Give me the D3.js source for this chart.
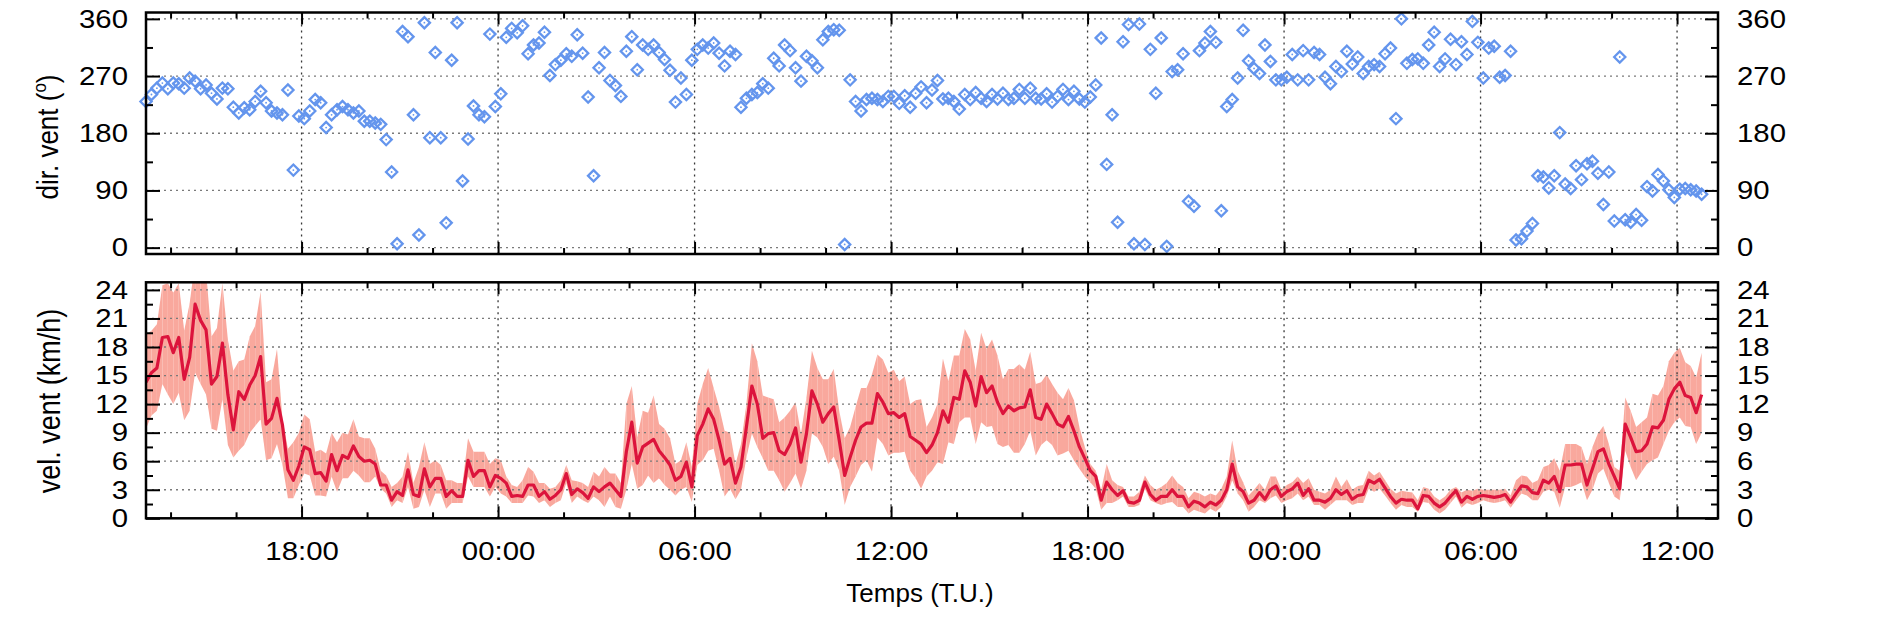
<!DOCTYPE html>
<html><head><meta charset="utf-8">
<script src="https://cdn.jsdelivr.net/npm/d3@7"></script>
<style>
body{margin:0;background:#fff}
svg text{font-family:"Liberation Sans",Arial,Helvetica,sans-serif;fill:#000}
</style>
</head><body>
<svg id="c" width="1890" height="629"></svg>
<script>
// ---------------- data ----------------
const startTime = "2013-06-10T13:15:00Z";   // first sample (T.U.)
const stepMinutes = 10;                      // sampling interval
const dirTicks = [0, 90, 180, 270, 360];
const dirMinorTicks = [45, 135, 225, 315];
const speedTicks = [0, 3, 6, 9, 12, 15, 18, 21, 24];
const speedMinorTicks = [1.5, 4.5, 7.5, 10.5, 13.5, 16.5, 19.5, 22.5];
const timeTickFormat = "%H:%M";

const windDir = [
230,241,251,259,250,259,258,251,267,262,
250,256,243,234,251,250,221,212,220,217,
230,246,228,215,212,209,248,122,207,203,
215,233,228,189,209,217,222,217,212,215,
199,199,196,194,170,119,6,340,332,209,
20,354,173,307,173,39,295,354,105,171,
223,209,206,336,222,242,331,345,338,349,
305,319,322,339,271,288,295,305,301,335,
306,237,113,283,307,263,255,238,309,332,
280,319,312,319,307,296,279,229,267,241,
295,312,319,314,322,306,286,309,304,221,
235,241,244,258,251,298,286,319,310,283,
262,301,294,283,327,340,343,342,5,264,
230,215,233,235,233,230,238,238,227,239,
221,243,253,228,248,263,234,235,230,218,
241,233,244,235,230,241,234,243,233,235,
249,235,251,235,234,242,229,238,249,233,
246,234,229,237,256,330,131,209,40,324,
351,6,352,5,312,243,330,2,277,280,
305,73,65,310,322,340,323,58,222,233,
267,342,294,282,274,319,293,264,264,268,
304,264,310,264,307,304,268,258,285,277,
309,289,300,274,285,288,285,305,314,203,
360,290,296,297,290,319,339,285,297,328,
288,324,304,356,323,267,314,317,268,271,
309,12,14,26,38,113,111,94,113,181,
100,93,129,107,132,136,117,68,119,42,
300,44,40,52,43,96,89,115,105,91,
79,92,93,91,89,84];

const speedMean = [
14.3,15.3,15.8,19.0,19.1,17.4,19.0,14.6,16.9,22.5,
20.8,19.8,14.1,14.9,18.4,13.0,9.3,13.3,12.5,14.0,
15.0,17.0,9.9,10.5,12.6,9.8,5.1,4.0,5.5,7.5,
7.2,4.7,4.8,3.9,6.7,5.0,6.6,6.3,7.6,6.5,
6.0,6.1,5.7,3.5,3.5,1.9,2.8,2.4,5.1,2.5,
2.3,5.2,3.3,4.2,4.2,2.3,2.9,2.3,2.3,6.1,
4.4,5.0,5.0,3.3,4.5,4.2,3.7,2.3,2.4,2.3,
3.5,3.5,2.3,2.8,2.0,2.4,3.0,4.7,2.5,3.1,
2.7,2.1,3.3,2.8,3.3,3.7,3.0,2.3,7.0,10.1,
5.8,7.5,7.9,8.3,7.1,6.4,5.6,4.0,4.4,5.9,
3.3,8.7,9.9,11.5,10.4,8.2,5.7,6.3,3.7,5.4,
9.6,13.9,12.0,8.4,8.9,9.0,7.1,6.7,7.8,9.5,
5.9,8.9,13.4,12.0,10.1,11.0,11.7,8.2,4.5,6.4,
8.2,9.6,10.0,10.0,13.1,12.2,11.0,11.1,10.6,11.0,
8.6,8.2,7.8,6.9,7.7,9.0,11.3,10.1,12.7,12.5,
15.5,14.3,11.8,14.9,13.2,13.9,12.2,11.0,11.8,11.3,
11.6,11.7,13.5,10.6,10.4,12.0,11.0,9.9,9.6,10.7,
9.2,7.5,6.3,5.0,4.4,1.9,3.8,3.0,2.4,2.9,
1.7,1.6,1.9,3.8,2.5,1.9,2.3,2.3,3.0,2.3,
2.3,1.2,1.8,1.6,1.2,1.7,1.4,1.9,3.0,5.7,
3.3,2.8,1.6,1.9,2.7,2.0,3.0,3.4,2.3,2.8,
3.1,3.7,2.4,3.1,1.9,1.9,1.7,2.1,3.0,2.5,
2.9,2.0,2.4,2.5,4.0,3.7,4.1,3.2,2.3,1.6,
2.0,1.9,1.9,1.0,2.4,2.3,1.6,1.2,1.6,2.3,
2.9,1.7,2.3,2.0,2.3,2.4,2.3,2.2,2.3,2.5,
1.7,2.6,3.4,3.3,2.7,2.6,4.0,3.7,4.4,2.8,
5.6,5.6,5.7,5.7,3.5,5.2,7.0,7.3,5.7,4.4,
3.1,9.9,8.5,7.0,7.1,7.8,9.6,9.5,10.3,12.5,
13.6,14.3,12.9,12.7,11.1,13.0];

const speedMax = [
19.3,19.7,20.4,24.5,24.7,23.7,24.7,19.7,22.6,27,
27,26,19.1,20.0,24.7,18.8,15.5,16.5,16.7,19.1,
20.2,23.8,14.3,14.6,17.8,10.4,7.3,8.0,9.0,10.9,
10.4,7.0,7.2,6.8,9.0,8.0,9.0,8.8,10.4,8.6,
8.4,8.4,7.3,5.0,4.5,3.3,3.7,4.4,7.0,3.7,
5.4,8.0,5.7,6.1,5.6,4.0,4.0,3.7,3.7,8.4,
7.0,7.0,7.0,5.7,6.3,6.1,4.4,3.5,3.3,4.0,
5.4,4.9,3.7,3.7,3.1,3.3,4.0,5.6,4.0,3.9,
3.7,3.3,4.9,4.4,5.4,4.7,4.7,3.7,12.0,13.9,
8.5,11.3,11.1,12.9,9.9,9.4,8.4,5.7,6.1,8.0,
5.4,12.0,14.1,15.8,13.7,11.7,9.2,9.0,5.7,7.8,
12.0,18.4,16.5,12.9,12.7,12.5,10.1,10.6,11.3,12.2,
8.9,12.7,17.6,15.8,14.6,14.6,15.7,11.3,8.4,9.6,
11.7,13.7,13.7,15.1,17.2,16.7,15.3,15.6,14.4,14.9,
12.0,12.4,12.5,9.6,10.6,12.0,16.8,14.4,17.1,17.1,
19.9,18.8,15.5,19.5,17.8,18.8,17.1,14.6,15.7,15.7,
16.2,15.6,17.5,14.1,14.3,15.1,14.1,13.2,12.5,13.7,
12.4,9.6,7.5,5.7,5.0,3.0,5.7,4.0,3.5,3.3,
2.3,2.3,2.8,4.5,3.5,3.0,3.3,3.7,4.5,3.7,
3.3,2.1,2.8,2.6,2.3,2.6,2.4,3.1,4.4,8.2,
5.0,3.8,2.4,3.0,3.7,3.0,4.4,4.4,3.0,3.5,
3.8,4.4,3.7,4.2,3.0,2.8,2.6,3.0,4.4,3.3,
4.1,3.0,3.4,3.5,5.0,4.5,4.9,4.0,3.1,2.6,
2.9,2.8,2.7,1.9,3.3,3.1,2.3,1.9,2.3,3.0,
3.3,2.7,3.0,2.9,3.1,3.0,3.0,3.0,3.0,3.1,
2.4,4.0,4.5,4.4,3.7,4.0,5.4,5.6,6.3,5.0,
7.8,7.8,7.8,7.5,5.7,7.5,8.9,9.7,7.8,5.4,
5.0,12.7,11.3,9.6,10.1,10.6,13.1,12.9,13.9,16.5,
17.4,17.9,16.4,16.0,14.8,17.4];

const speedMin = [
9.4,10.8,11.3,14.1,13.0,12.0,13.2,10.3,11.3,15.3,
14.1,13.0,9.4,9.2,12.5,7.7,6.4,7.1,7.7,9.0,
9.7,10.4,6.1,6.3,7.8,5.6,2.1,2.1,3.5,4.7,
4.5,2.4,2.4,2.3,4.4,2.8,4.2,4.2,5.0,4.5,
3.8,3.8,4.4,3.1,2.6,1.2,1.9,1.6,3.3,1.0,
1.2,3.0,1.2,2.6,2.6,1.0,1.6,1.6,1.6,4.4,
3.3,3.3,3.3,2.3,3.3,2.6,2.3,1.6,1.6,1.6,
2.4,2.3,1.6,1.9,1.2,1.6,1.9,3.7,1.6,2.3,
1.9,1.6,2.3,1.9,1.2,2.3,1.2,1.0,3.0,5.7,
3.1,3.5,4.5,3.7,4.2,3.5,3.0,2.4,3.0,3.3,
1.7,5.6,6.1,7.1,7.3,5.0,2.3,3.1,2.0,3.0,
6.4,8.9,7.5,6.3,5.0,5.0,4.0,2.8,3.7,4.7,
3.1,5.0,8.9,8.5,7.5,5.7,6.5,5.0,1.4,3.3,
4.4,5.6,6.1,4.9,8.5,7.8,6.6,6.9,6.9,7.0,
5.0,4.2,3.1,4.4,5.0,5.9,5.7,8.0,7.8,10.1,
10.6,10.6,7.8,10.1,9.6,9.7,7.8,7.5,7.7,6.9,
6.9,7.8,9.2,6.6,7.7,8.2,7.7,6.6,6.8,7.1,
6.1,5.2,4.4,3.8,3.1,0.9,1.6,1.6,1.9,2.3,
1.2,1.2,1.4,3.1,1.9,1.6,1.4,1.6,1.7,1.2,
1.2,0.5,0.9,0.7,0.5,1.0,0.7,1.2,2.3,4.0,
2.6,1.9,0.7,1.2,1.9,1.6,2.1,2.4,1.6,1.9,
2.1,2.6,1.9,2.3,1.4,1.4,0.9,1.4,1.9,1.9,
1.9,1.4,1.6,1.6,3.1,2.8,3.1,2.4,1.6,0.9,
1.4,1.2,1.2,0.7,1.7,1.6,0.9,0.5,0.9,1.6,
2.3,1.1,1.6,1.4,1.6,1.9,1.7,1.6,1.7,1.9,
1.1,1.9,2.6,2.4,1.9,1.9,2.8,3.0,2.8,1.1,
3.3,3.3,3.5,3.8,1.9,3.0,4.7,5.2,3.7,2.3,
1.9,7.1,5.4,4.0,4.9,5.7,6.1,6.4,7.8,9.2,
10.1,10.6,9.7,9.6,7.8,9.0];

// ---------------- layout ----------------
const L = 146, R = 1718;
const P1 = {top: 12.5, bottom: 254};
const P2 = {top: 282.3, bottom: 518.3};
const FS = 26, SX = 1.13;
const BLUE = "#6495ED", RED = "#DC143C", BAND = "#f9a89d";

const svg = d3.select("#c");
const t0 = new Date(startTime);
const times = windDir.map((d, i) => d3.utcMinute.offset(t0, i * stepMinutes));
const x = d3.scaleUtc().domain([t0, d3.utcHour.offset(t0, 48)]).range([L, R]);
const yDir = d3.scaleLinear().domain([-10, 370]).range([P1.bottom, P1.top]);
const ySpd = d3.scaleLinear().domain([0, 24.8]).range([P2.bottom, P2.top]);

const majorT = x.ticks(d3.utcHour.every(6));
const minorT = x.ticks(d3.utcHour.every(2)).filter(t => t.getUTCHours() % 6 !== 0);

svg.append("defs").append("clipPath").attr("id", "clip2")
  .append("rect").attr("x", L).attr("y", P2.top).attr("width", R - L).attr("height", P2.bottom - P2.top);

// ---------------- grids ----------------
function grid(y, vals, P) {
  const g = svg.append("g");
  g.selectAll("line.h").data(vals).join("line")
    .attr("x1", L).attr("x2", R).attr("y1", d => y(d)).attr("y2", d => y(d))
    .attr("stroke", "#7a7a7a").attr("stroke-width", 1.3).attr("stroke-dasharray", "2,4");
  g.selectAll("line.v").data(majorT).join("line")
    .attr("x1", d => x(d)).attr("x2", d => x(d)).attr("y1", P.top).attr("y2", P.bottom)
    .attr("stroke", "#383838").attr("stroke-width", 1.3).attr("stroke-dasharray", "2,4");
}

// ---------------- panel 2: band + line ----------------
const speedData = times.map((t, i) => ({t, m: speedMean[i], hi: speedMax[i], lo: speedMin[i]}));
const pairs = d3.pairs(speedData);
const area = d3.area().x(d => x(d.t)).y0(d => ySpd(d.lo)).y1(d => ySpd(d.hi));
const g2 = svg.append("g").attr("clip-path", "url(#clip2)");
g2.selectAll("path.band").data(pairs).join("path")
  .attr("d", d => area(d)).attr("fill", BAND).attr("stroke", "none");
grid(ySpd, speedTicks, P2);
svg.append("g").attr("clip-path", "url(#clip2)").append("path")
  .datum(speedData)
  .attr("d", d3.line().x(d => x(d.t)).y(d => ySpd(d.m)))
  .attr("fill", "none").attr("stroke", RED).attr("stroke-width", 3.2).attr("stroke-linejoin", "round");

// ---------------- panel 1: diamonds ----------------
grid(yDir, dirTicks, P1);
const dirData = times.map((t, i) => ({t, v: windDir[i]}));
const g1 = svg.append("g");
const r = 5.6;
g1.selectAll("path.dm").data(dirData).join("path")
  .attr("d", d => { const cx = x(d.t), cy = yDir(d.v);
    return `M${cx - r},${cy}L${cx},${cy - r}L${cx + r},${cy}L${cx},${cy + r}Z`; })
  .attr("fill", "none").attr("stroke", BLUE).attr("stroke-width", 2.3);
g1.selectAll("circle").data(dirData).join("circle")
  .attr("cx", d => x(d.t)).attr("cy", d => yDir(d.v)).attr("r", 0.9).attr("fill", BLUE);

// ---------------- frames & axes ----------------
function styleAxis(g) {
  g.select(".domain").remove();
  g.selectAll(".tick line").attr("stroke", "#000").attr("stroke-width", 2);
  g.attr("font-size", null).attr("font-family", null);
}
function yAxes(y, major, minor) {
  const left = svg.append("g").attr("transform", `translate(${L},0)`)
    .call(d3.axisLeft(y).tickValues(major).tickSize(-14).tickPadding(18).tickFormat(d3.format("d")));
  styleAxis(left);
  left.selectAll(".tick text").attr("x", -18 / SX).attr("transform", `scale(${SX},1)`)
    .style("font-size", FS + "px");
  const right = svg.append("g").attr("transform", `translate(${R},0)`)
    .call(d3.axisRight(y).tickValues(major).tickSize(-13).tickPadding(19).tickFormat(d3.format("d")));
  styleAxis(right);
  right.selectAll(".tick text").attr("x", 19 / SX).attr("transform", `scale(${SX},1)`)
    .style("font-size", FS + "px");
  [[L, d3.axisLeft], [R, d3.axisRight]].forEach(([px, ax]) => {
    styleAxis(svg.append("g").attr("transform", `translate(${px},0)`)
      .call(ax(y).tickValues(minor).tickSize(-7).tickFormat("")));
  });
}
function xAxes(P, labels) {
  const b = svg.append("g").attr("transform", `translate(0,${P.bottom})`)
    .call(d3.axisBottom(x).tickValues(majorT).tickSize(-12).tickFormat(labels ? d3.utcFormat(timeTickFormat) : ""));
  styleAxis(b);
  if (labels) {
    b.selectAll(".tick text").attr("y", 560 - P.bottom).attr("dy", 0).attr("x", 0)
      .attr("transform", `scale(${SX},1)`).style("font-size", FS + "px");
  }
  styleAxis(svg.append("g").attr("transform", `translate(0,${P.bottom})`)
    .call(d3.axisBottom(x).tickValues(minorT).tickSize(-6).tickFormat("")));
  styleAxis(svg.append("g").attr("transform", `translate(0,${P.top})`)
    .call(d3.axisTop(x).tickValues(majorT).tickSize(-12).tickFormat("")));
  styleAxis(svg.append("g").attr("transform", `translate(0,${P.top})`)
    .call(d3.axisTop(x).tickValues(minorT).tickSize(-6).tickFormat("")));
}
yAxes(yDir, dirTicks, dirMinorTicks);
yAxes(ySpd, speedTicks, speedMinorTicks);
xAxes(P1, false);
xAxes(P2, true);

[P1, P2].forEach(P => svg.append("rect").attr("x", L).attr("y", P.top)
  .attr("width", R - L).attr("height", P.bottom - P.top)
  .attr("fill", "none").attr("stroke", "#000").attr("stroke-width", 2.5));

// ---------------- titles ----------------
const t1 = svg.append("text").attr("transform", `translate(58,137) scale(${SX},1) rotate(-90)`)
  .attr("text-anchor", "middle").style("font-size", FS + "px");
t1.append("tspan").text("dir. vent (");
t1.append("tspan").text("o").attr("dy", -11).style("font-size", "17px");
t1.append("tspan").text(")").attr("dy", 11);
svg.append("text").attr("transform", `translate(60,401) scale(${SX},1) rotate(-90)`)
  .attr("text-anchor", "middle").style("font-size", (FS + 1) + "px").text("vel. vent (km/h)");
svg.append("text").attr("x", 920).attr("y", 602).attr("text-anchor", "middle")
  .style("font-size", FS + "px").text("Temps (T.U.)");
</script>
</body></html>
